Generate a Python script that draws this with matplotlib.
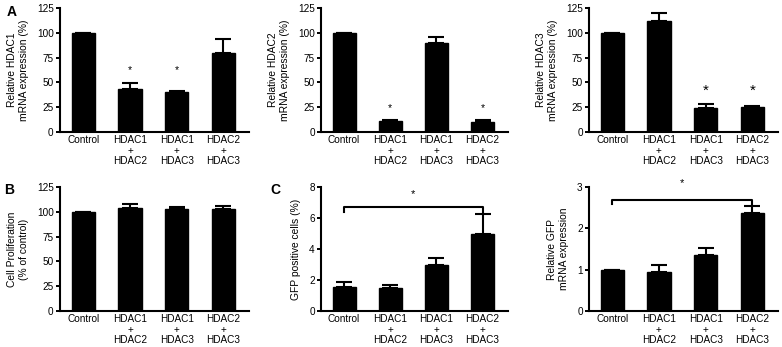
import matplotlib
matplotlib.use("Agg")
import matplotlib.pyplot as plt
import numpy as np

plt.rcParams['font.family'] = ['Liberation Sans', 'DejaVu Sans']

# data
groups = ['Control', 'HDAC1\n+\nHDAC2', 'HDAC1\n+\nHDAC3', 'HDAC2\n+\nHDAC3']

hdac1_mean = [100, 43, 40, 80]
hdac1_err = [0, 6, 1.5, 14]
hdac2_mean = [100, 10.7, 89.5, 10]
hdac2_err = [0, 1, 6.7, 2]
hdac3_mean = [100, 112, 24.3, 25.3]
hdac3_err = [0, 7.5, 4.4, 1.4]
prolif_mean = [100, 103.5, 102.5, 102.5]
prolif_err = [0, 4.7, 2.3, 3.8]
gfp_cells_mean = [1.53, 1.5, 2.94, 4.95]
gfp_cells_err = [0.37, 0.18, 0.48, 1.3]
gfp_mrna_mean = [1.0, 0.94, 1.35, 2.37]
gfp_mrna_err = [0, 0.18, 0.17, 0.16]

W, H = 782, 347


def make_ax(fig, x0, y0, x1, y1):
    # pixel box -> figure fraction
    return fig.add_axes([x0 / W, 1 - y1 / H, (x1 - x0) / W, (y1 - y0) / H])


def bar_panel(ax, means, errs, ymax, yticks, ylabel):
    x = np.arange(len(groups))
    ax.bar(x, means, width=0.5, color='black', edgecolor='black', zorder=2)
    lower = np.zeros(len(errs))
    ax.errorbar(x, means, yerr=[lower, errs], fmt='none', ecolor='black',
                elinewidth=1.5, capsize=6, capthick=1.5, zorder=3)
    ax.set_xlim(-0.5, 3.55)
    ax.set_ylim(0, ymax)
    ax.set_yticks(yticks)
    ax.set_xticks(x)
    ax.set_xticklabels(groups, fontsize=7.2, linespacing=1.05)
    ax.tick_params(axis='x', length=0, pad=2.5)
    ax.tick_params(axis='y', length=3, width=1.4, labelsize=7.2, pad=1.5)
    for s in ['top', 'right']:
        ax.spines[s].set_visible(False)
    for s in ['left', 'bottom']:
        ax.spines[s].set_linewidth(1.5)
    ax.set_ylabel(ylabel, fontsize=7.4, labelpad=6, linespacing=1.2)


def stars(ax, xs, y, size):
    for xi in xs:
        ax.text(xi, y, '*', ha='center', va='center', fontsize=size)


def bracket(ax, x0, x1, ytop, ybot, ystar):
    ax.plot([x0, x0, x1, x1], [ybot, ytop, ytop, ybot], color='black', lw=1.5,
            clip_on=False, zorder=4)
    ax.text((x0 + x1) / 2, ystar, '*', ha='center', va='center', fontsize=8,
            clip_on=False)


fig = plt.figure(figsize=(W / 100, H / 100), dpi=100)

top = (8, 132)
bot = (187, 311)
cols = [(60, 249), (321, 508), (589, 778)]

ax1 = make_ax(fig, cols[0][0], top[0], cols[0][1], top[1])
bar_panel(ax1, hdac1_mean, hdac1_err, 125, [0, 25, 50, 75, 100, 125],
          'Relative HDAC1\nmRNA expression (%)')
stars(ax1, [1, 2], 62, 7.5)

ax2 = make_ax(fig, cols[1][0], top[0], cols[1][1], top[1])
bar_panel(ax2, hdac2_mean, hdac2_err, 125, [0, 25, 50, 75, 100, 125],
          'Relative HDAC2\nmRNA expression (%)')
stars(ax2, [1, 3], 24, 7.5)

ax3 = make_ax(fig, cols[2][0], top[0], cols[2][1], top[1])
bar_panel(ax3, hdac3_mean, hdac3_err, 125, [0, 25, 50, 75, 100, 125],
          'Relative HDAC3\nmRNA expression (%)')
stars(ax3, [2, 3], 42, 11)

ax4 = make_ax(fig, cols[0][0], bot[0], cols[0][1], bot[1])
bar_panel(ax4, prolif_mean, prolif_err, 125, [0, 25, 50, 75, 100, 125],
          'Cell Proliferation\n(% of control)')

ax5 = make_ax(fig, cols[1][0], bot[0], cols[1][1], bot[1])
bar_panel(ax5, gfp_cells_mean, gfp_cells_err, 8, [0, 2, 4, 6, 8],
          'GFP positive cells (%)')
bracket(ax5, 0, 3, 6.7, 6.4, 7.55)

ax6 = make_ax(fig, cols[2][0], bot[0], cols[2][1], bot[1])
bar_panel(ax6, gfp_mrna_mean, gfp_mrna_err, 3, [0, 1, 2, 3],
          'Relative GFP\nmRNA expression')
bracket(ax6, 0, 3, 2.69, 2.6, 3.1)

fig.text(7 / W, 1 - 12 / H, 'A', fontsize=10, fontweight='bold', va='center')
fig.text(4 / W, 1 - 190 / H, 'B', fontsize=10, fontweight='bold', va='center')
fig.text(270 / W, 1 - 190 / H, 'C', fontsize=10, fontweight='bold', va='center')

fig.savefig('out.png', dpi=100)
